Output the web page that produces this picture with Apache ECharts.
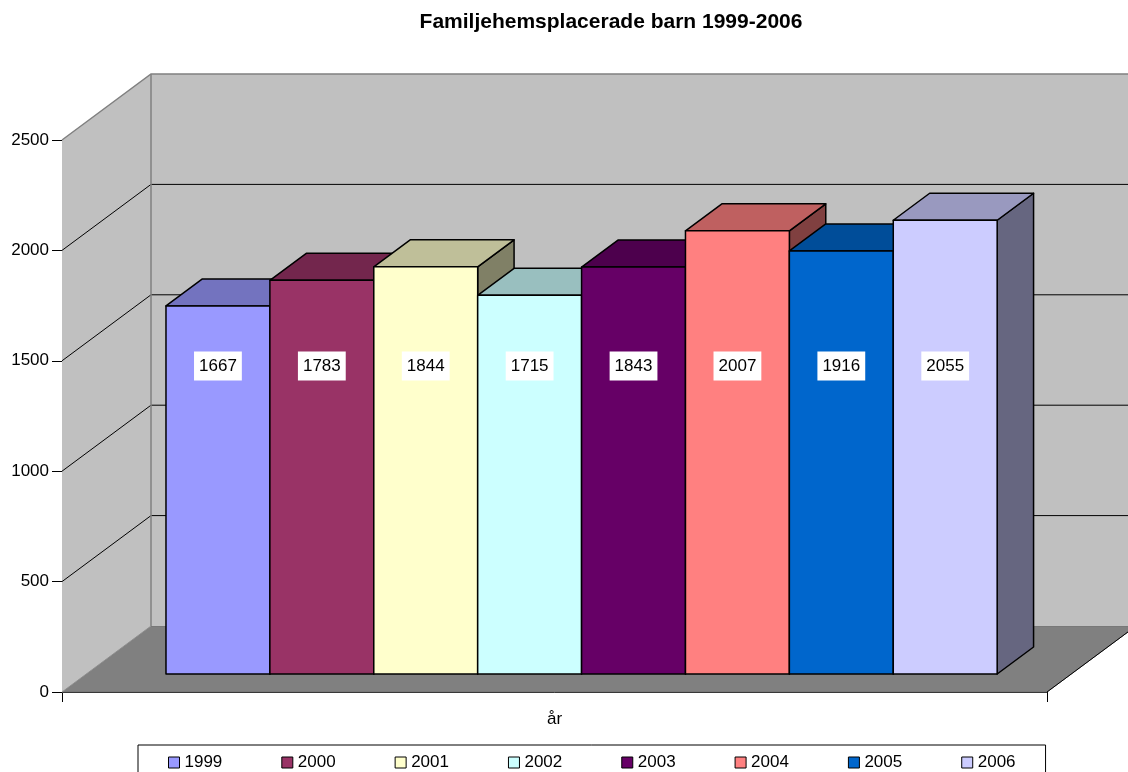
<!DOCTYPE html>
<html>
<head>
<meta charset="utf-8">
<script src="https://cdn.jsdelivr.net/npm/echarts@6/dist/echarts.min.js"></script>
<style>
  html, body { margin: 0; padding: 0; background: #fff; }
  #chart { width: 1128px; height: 772px; }
</style>
</head>
<body>
<div id="chart"></div>
<script>
  "use strict";

  var titleText = "Familjehemsplacerade barn 1999-2006";
  var categories = ["år"];
  var years = ["1999", "2000", "2001", "2002", "2003", "2004", "2005", "2006"];
  var values = [1667, 1783, 1844, 1715, 1843, 2007, 1916, 2055];
  var yTicks = [0, 500, 1000, 1500, 2000, 2500];

  var palette = ["#9999FF", "#993366", "#FFFFCC", "#CCFFFF", "#660066", "#FF8080", "#0066CC", "#CCCCFF"];
  var FONT = "'Liberation Sans', Arial, sans-serif";

  // 3D look: depth of the box in pixels, and where the bars sit in it
  var DEPTH_X = 89, DEPTH_Y = -66;
  var BAR_FRONT = 0.273, BAR_BACK = 0.682;
  var BAR_START = 0.0809, BAR_STEP = 0.10548;
  var LABEL_AT = 1395;

  function shade(hex, f) {
    var n = parseInt(hex.slice(1), 16);
    var r = Math.round(((n >> 16) & 255) * f);
    var g = Math.round(((n >> 8) & 255) * f);
    var b = Math.round((n & 255) * f);
    return "rgb(" + r + "," + g + "," + b + ")";
  }

  function renderWalls(params, api) {
    var bw = api.size([1, 0])[0];
    var c0 = api.coord([0, yTicks[0]]);
    var x0 = c0[0] - bw / 2, x1 = c0[0] + bw / 2, yb = c0[1];
    var yt = api.coord([0, yTicks[yTicks.length - 1]])[1];
    var dx = DEPTH_X, dy = DEPTH_Y;
    var children = [];

    children.push({
      type: "polygon",
      shape: { points: [[x0, yb], [x1, yb], [x1 + dx, yb + dy], [x0 + dx, yb + dy]] },
      style: { fill: "#808080", stroke: "#707070", lineWidth: 1 }
    });
    children.push({
      type: "polygon",
      shape: { points: [[x0, yb], [x0, yt], [x0 + dx, yt + dy], [x0 + dx, yb + dy]] },
      style: { fill: "#C0C0C0" }
    });
    children.push({
      type: "rect",
      shape: { x: x0 + dx, y: yt + dy, width: x1 - x0, height: yb - yt },
      style: { fill: "#C0C0C0" }
    });

    yTicks.forEach(function(v, k) {
      if (k === 0 || k === yTicks.length - 1) return;
      var y = api.coord([0, v])[1];
      children.push({
        type: "polyline",
        shape: { points: [[x0, y], [x0 + dx, y + dy], [x1 + dx, y + dy]] },
        style: { stroke: "#000", lineWidth: 1, fill: null }
      });
    });

    // outer edges of the walls
    children.push({
      type: "polyline",
      shape: { points: [[x0, yt], [x0 + dx, yt + dy], [x1 + dx, yt + dy]] },
      style: { stroke: "#808080", lineWidth: 1.5, fill: null }
    });
    children.push({
      type: "line",
      shape: { x1: x0 + dx, y1: yt + dy, x2: x0 + dx, y2: yb + dy },
      style: { stroke: "#808080", lineWidth: 1.5 }
    });
    children.push({
      type: "line",
      shape: { x1: x0, y1: yb, x2: x0 + dx, y2: yb + dy },
      style: { stroke: "#909090", lineWidth: 1 }
    });
    children.push({
      type: "line",
      shape: { x1: x1, y1: yb, x2: x1 + dx, y2: yb + dy },
      style: { stroke: "#000", lineWidth: 1 }
    });

    return { type: "group", children: children };
  }

  function renderBar(params, api) {
    var i = params.seriesIndex;
    var color = palette[i];
    var bw = api.size([1, 0])[0];
    var base = api.coord([api.value(0), 0]);
    var top = api.coord([api.value(0), api.value(1)]);
    var fx = DEPTH_X * BAR_FRONT, fy = DEPTH_Y * BAR_FRONT;
    var ddx = DEPTH_X * (BAR_BACK - BAR_FRONT), ddy = DEPTH_Y * (BAR_BACK - BAR_FRONT);

    var left = base[0] - bw / 2 + bw * BAR_START + i * bw * BAR_STEP + fx;
    var right = left + bw * BAR_STEP;
    var yb = base[1] + fy, yt = top[1] + fy;
    var labelY = api.coord([api.value(0), LABEL_AT])[1] + fy;
    var edge = { stroke: "#000", lineWidth: 1.5, lineJoin: "round" };

    return {
      type: "group",
      children: [
        {
          type: "polygon",
          shape: { points: [[right, yt], [right + ddx, yt + ddy], [right + ddx, yb + ddy], [right, yb]] },
          style: Object.assign({ fill: shade(color, 0.5) }, edge)
        },
        {
          type: "polygon",
          shape: { points: [[left, yt], [left + ddx, yt + ddy], [right + ddx, yt + ddy], [right, yt]] },
          style: Object.assign({ fill: shade(color, 0.75) }, edge)
        },
        {
          type: "rect",
          shape: { x: left, y: yt, width: right - left, height: yb - yt },
          style: Object.assign({ fill: color }, edge)
        },
        {
          type: "text",
          x: (left + right) / 2,
          y: labelY,
          style: {
            text: String(api.value(1)),
            align: "center",
            verticalAlign: "middle",
            fontSize: 17,
            fontFamily: FONT,
            fill: "#000",
            backgroundColor: "#fff",
            padding: [6, 5]
          }
        }
      ]
    };
  }

  var series = years.map(function(year, i) {
    return {
      type: "custom",
      name: year,
      z: 3,
      renderItem: renderBar,
      itemStyle: { color: palette[i] },
      data: [[0, values[i]]]
    };
  });
  series.push({
    type: "custom",
    z: 1,
    silent: true,
    renderItem: renderWalls,
    data: [[0, 0]]
  });

  var chart = echarts.init(document.getElementById("chart"), null, { renderer: "canvas" });
  chart.setOption({
    animation: false,
    backgroundColor: "#fff",
    title: {
      text: titleText,
      left: 611,
      top: 12,
      padding: 0,
      textAlign: "center",
      textStyle: { fontSize: 21, fontWeight: "bold", color: "#000", fontFamily: FONT }
    },
    grid: { left: 62, right: 81, top: 140, bottom: 80 },
    xAxis: {
      type: "category",
      data: categories,
      axisLine: { lineStyle: { color: "#000", width: 1 } },
      axisTick: { show: true, length: 10, lineStyle: { color: "#000" } },
      axisLabel: { margin: 19, fontSize: 17, color: "#000", fontFamily: FONT },
      splitLine: { show: false }
    },
    yAxis: {
      type: "value",
      min: 0,
      max: 2500,
      interval: 500,
      axisLine: { show: true, lineStyle: { color: "#000", width: 1 } },
      axisTick: { show: true, length: 10, lineStyle: { color: "#000" } },
      axisLabel: {
        margin: 13,
        fontSize: 17,
        color: "#000",
        fontFamily: FONT,
        formatter: function(v) { return String(v); }
      },
      splitLine: { show: false }
    },
    legend: {
      data: years,
      left: 138,
      top: 745,
      padding: [9, 30, 6, 30],
      icon: "rect",
      itemWidth: 11,
      itemHeight: 11,
      itemGap: 59,
      borderColor: "#000",
      borderWidth: 1,
      backgroundColor: "#fff",
      itemStyle: { borderColor: "#000", borderWidth: 1 },
      textStyle: { fontSize: 17, color: "#000", fontFamily: FONT }
    },
    series: series
  });
</script>
</body>
</html>
